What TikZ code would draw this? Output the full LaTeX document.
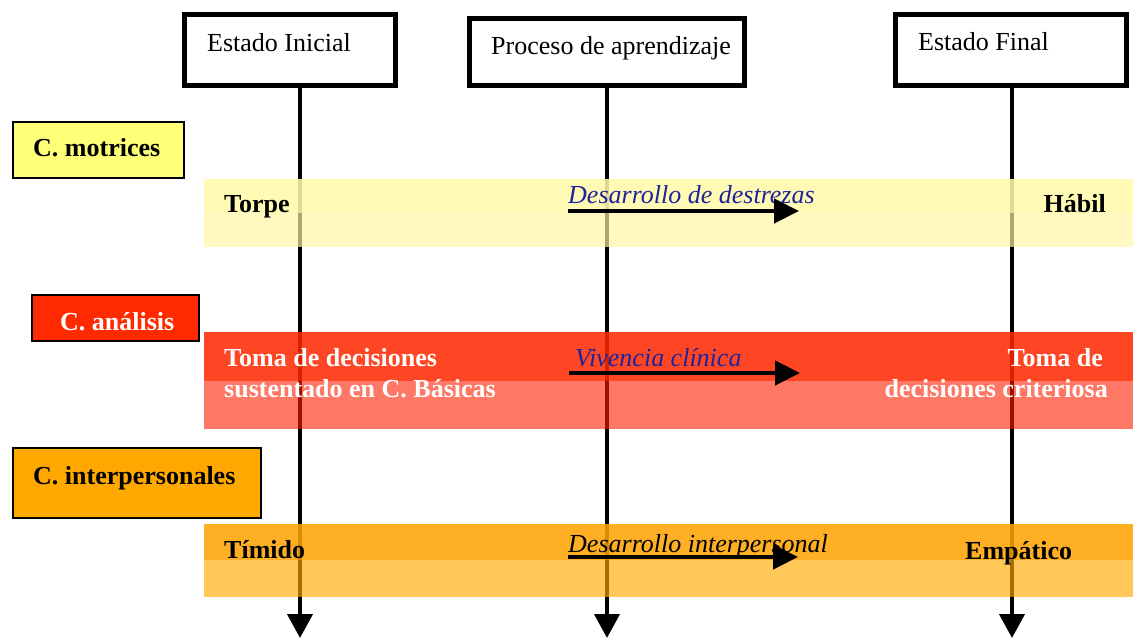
\documentclass[tikz,border=0pt]{standalone}
\usepackage{fontspec}
\setmainfont{Liberation Serif}
\usetikzlibrary{arrows.meta}
\definecolor{cmot}{RGB}{255,255,120}
\definecolor{cana}{RGB}{255,42,0}
\definecolor{cint}{RGB}{255,168,0}
\definecolor{yA}{RGB}{255,250,170}
\definecolor{yB}{RGB}{255,247,165}
\definecolor{rA}{RGB}{255,40,0}
\definecolor{rB}{RGB}{255,30,0}
\definecolor{oA}{RGB}{255,162,0}
\definecolor{oB}{RGB}{255,171,0}
\definecolor{bluetxt}{RGB}{30,35,155}
\begin{document}
\begin{tikzpicture}[x=1pt,y=-1pt,
  txt/.style={inner sep=0pt, font=\fontsize{26}{31}\selectfont},
  btxt/.style={txt, font=\fontsize{26}{31}\selectfont\bfseries},
  itxt/.style={txt, font=\fontsize{26}{31}\selectfont\itshape},
  headbox/.style={draw, line width=5pt, fill=white, inner sep=0pt, minimum width=#1},
  labbox/.style={draw, line width=2pt, inner sep=0pt},
  vline/.style={line width=4pt, -{Triangle[length=24pt,width=25pt]}},
  harrow/.style={line width=4.5pt, -{Triangle[length=25pt,width=24pt]}}
]
\useasboundingbox (0,0) rectangle (1133,639);
\fill[white] (0,0) rectangle (1133,639);

% header boxes
\node[headbox=211pt, minimum height=71pt] (b1) at (290,50) {};
\node[headbox=275pt, minimum height=67pt] (b2) at (607,52) {};
\node[headbox=231pt, minimum height=71pt] (b3) at (1011,50) {};
\node[txt, anchor=base west] (t1) at (207,52) {Estado Inicial};
\node[txt, anchor=base west] (t2) at (491,55) {Proceso de aprendizaje};
\node[txt, anchor=base west] (t3) at (918,51) {Estado Final};

% vertical lines
\coordinate (e1) at (300,638);
\coordinate (e2) at (607,638);
\coordinate (e3) at (1012,638);
\draw[vline] (b1.south -| e1) -- (e1);
\draw[vline] (b2.south -| e2) -- (e2);
\draw[vline] (b3.south -| e3) -- (e3);

% left labels
\node[labbox, fill=cmot, minimum width=171pt, minimum height=56pt] (l1) at (98.5,150) {};
\node[btxt, anchor=base west] (l1t) at (33,157) {C. motrices};
\node[labbox, fill=cana, minimum width=167pt, minimum height=46pt] (l2) at (115.5,318) {};
\node[btxt, anchor=base west, text=white] (l2t) at (60,330) {C. análisis};
\node[labbox, fill=cint, minimum width=248pt, minimum height=70pt] (l3) at (137,483) {};
\node[btxt, anchor=base west] (l3t) at (33,484) {C. interpersonales};

% bands
\fill[yA, opacity=0.88] (204,179) rectangle (1133,213);
\fill[yB, opacity=0.68] (204,213) rectangle (1133,247);
\fill[rA, opacity=0.86] (204,332) rectangle (1133,381);
\fill[rB, opacity=0.6] (204,381) rectangle (1133,429);
\fill[oA, opacity=0.86] (204,524) rectangle (1133,560);
\fill[oB, opacity=0.65] (204,560) rectangle (1133,597);

% band 1
\node[btxt, anchor=base west] (torpe) at (224,213) {Torpe};
\node[btxt, anchor=base east] (habil) at (1106,213) {Hábil};
\node[itxt, anchor=base west, text=bluetxt] (dd) at (568,204) {Desarrollo de destrezas};
\coordinate (a1s) at (568,211);
\coordinate (a1e) at (799,211);
\draw[harrow] (a1s) -- (a1e);

% band 2
\node[btxt, anchor=base west, text=white] (td1) at (224,366) {Toma de decisiones};
\node[btxt, anchor=base west, text=white] (td2) at (224,397) {sustentado en C. Básicas};
\node[btxt, anchor=base east, text=white] (tc1) at (1103,366) {Toma de};
\node[btxt, anchor=base east, text=white] (tc2) at (1108,397) {decisiones criteriosa};
\node[itxt, anchor=base west, text=bluetxt] (vc) at (575,366) {Vivencia clínica};
\coordinate (a2s) at (569,373);
\coordinate (a2e) at (800,373);
\draw[harrow] (a2s) -- (a2e);

% band 3
\node[btxt, anchor=base west] (tim) at (224,558) {Tímido};
\node[btxt, anchor=base west] (emp) at (965,559) {Empático};
\node[itxt, anchor=base west] (di) at (568,552) {Desarrollo interpersonal};
\coordinate (a3s) at (568,557);
\coordinate (a3e) at (798,557);
\draw[harrow] (a3s) -- (a3e);
\end{tikzpicture}
\end{document}
